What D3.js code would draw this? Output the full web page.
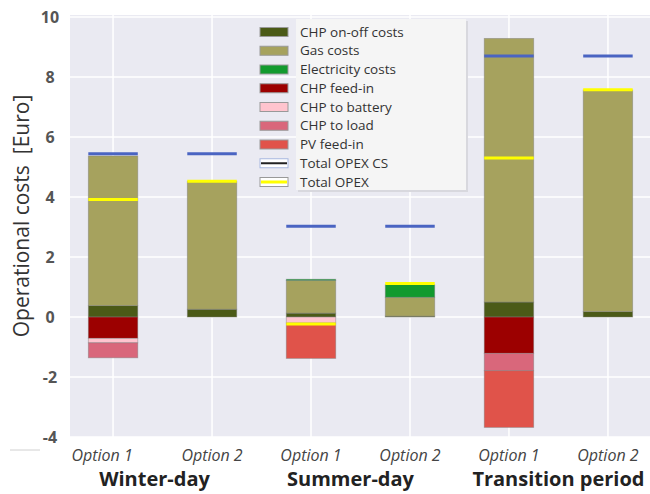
<!DOCTYPE html>
<html>
<head>
<meta charset="utf-8">
<script src="https://cdn.jsdelivr.net/npm/d3@7"></script>
<style>
  body { margin: 0; background: #fff; }
  svg { display: block; font-family: 'Open Sans', sans-serif; }
</style>
</head>
<body>
<svg id="chart"></svg>
<script>
var options = ['Option 1', 'Option 2', 'Option 1', 'Option 2', 'Option 1', 'Option 2'];
var groups = ['Winter-day', 'Summer-day', 'Transition period'];
var yTicks = [-4, -2, 0, 2, 4, 6, 8, 10];

// stacked components, one value per bar
var chpOnOff = [0.38, 0.26, 0.13, 0.03, 0.50, 0.18];
var gasCosts = [4.99, 4.27, 1.09, 0.63, 8.79, 7.39];
var electricityCosts = [0, 0, 0.04, 0.42, 0, 0];
var chpFeedIn = [-0.71, 0, 0, 0, -1.21, 0];
var chpToBattery = [-0.15, 0, -0.20, 0, 0, 0];
var chpToLoad = [-0.50, 0, 0, 0, -0.58, 0];
var pvFeedIn = [0, 0, -1.18, 0, -1.89, 0];

var totalOpexCS = [5.44, 5.44, 3.03, 3.03, 8.70, 8.70];
var totalOpex = [3.92, 4.53, -0.23, 1.12, 5.30, 7.58];

var series = [
  { name: 'CHP on-off costs', values: chpOnOff, color: '#4b5a17' },
  { name: 'Gas costs', values: gasCosts, color: '#a6a25e' },
  { name: 'Electricity costs', values: electricityCosts, color: '#129a2e' },
  { name: 'CHP feed-in', values: chpFeedIn, color: '#9c0000' },
  { name: 'CHP to battery', values: chpToBattery, color: '#ffc4ce' },
  { name: 'CHP to load', values: chpToLoad, color: '#d9677b' },
  { name: 'PV feed-in', values: pvFeedIn, color: '#e0534a' }
];

var width = 650, height = 494;
var plot = { left: 70, right: 651, top: 15, bottom: 437 };

var svg = d3.select('#chart').attr('width', width).attr('height', height);

var x = d3.scaleLinear().domain([-0.435, 5.435]).range([plot.left, plot.right]);
var y = d3.scaleLinear().domain([-4, 10.07]).range([plot.bottom, plot.top]);
var barW = x(0.5) - x(0);

// background + grid
svg.append('rect')
  .attr('x', plot.left).attr('y', plot.top)
  .attr('width', plot.right - plot.left).attr('height', plot.bottom - plot.top)
  .attr('fill', '#eaeaf2');

var grid = svg.append('g');
grid.selectAll('.hg').data(yTicks).enter().append('line')
  .attr('x1', plot.left).attr('x2', plot.right)
  .attr('y1', d => y(d)).attr('y2', d => y(d))
  .attr('stroke', '#fff').attr('stroke-width', 1.5);
grid.selectAll('.vg').data(options).enter().append('line')
  .attr('x1', (d, i) => x(i)).attr('x2', (d, i) => x(i))
  .attr('y1', plot.top).attr('y2', plot.bottom)
  .attr('stroke', '#fff').attr('stroke-width', 1.5);

// stack positives up and negatives down
var posBase = options.map(() => 0);
var negBase = options.map(() => 0);
var segs = [];
series.forEach(function(s) {
  s.values.forEach(function(v, i) {
    if (v === 0) return;
    var y0, y1;
    if (v > 0) { y0 = posBase[i]; y1 = y0 + v; posBase[i] = y1; }
    else { y0 = negBase[i]; y1 = y0 + v; negBase[i] = y1; }
    segs.push({ i: i, y0: y0, y1: y1, color: s.color });
  });
});

svg.append('g').selectAll('rect').data(segs).enter().append('rect')
  .attr('x', d => x(d.i) - barW / 2)
  .attr('width', barW)
  .attr('y', d => y(Math.max(d.y0, d.y1)))
  .attr('height', d => Math.abs(y(d.y0) - y(d.y1)))
  .attr('fill', d => d.color)
  .attr('stroke', '#808080').attr('stroke-opacity', 0.55).attr('stroke-width', 0.8);

// total lines
svg.append('g').selectAll('line').data(totalOpexCS).enter().append('line')
  .attr('x1', (d, i) => x(i) - barW / 2).attr('x2', (d, i) => x(i) + barW / 2)
  .attr('y1', d => y(d)).attr('y2', d => y(d))
  .attr('stroke', '#4a64c2').attr('stroke-width', 3);
svg.append('g').selectAll('line').data(totalOpex).enter().append('line')
  .attr('x1', (d, i) => x(i) - barW / 2).attr('x2', (d, i) => x(i) + barW / 2)
  .attr('y1', d => y(d)).attr('y2', d => y(d))
  .attr('stroke', '#ffff00').attr('stroke-width', 3);

// y tick labels
svg.append('g').selectAll('text').data(yTicks).enter().append('text')
  .attr('x', 50).attr('y', d => y(d) + 5.5)
  .attr('text-anchor', 'middle')
  .attr('font-size', 16).attr('font-weight', 'bold').attr('fill', '#555')
  .text(d => d);

svg.append('text')
  .attr('transform', 'translate(29,' + 216 + ') rotate(-90)')
  .attr('text-anchor', 'middle')
  .attr('font-size', 21).attr('fill', '#333')
  .attr('xml:space', 'preserve')
  .text('Operational costs  [Euro]');

// x labels
svg.append('g').selectAll('text').data(options).enter().append('text')
  .attr('x', (d, i) => x(i) + (i === 0 ? -11 : 0))
  .attr('y', 461)
  .attr('text-anchor', 'middle')
  .attr('font-size', 16).attr('font-style', 'italic').attr('fill', '#444')
  .text(d => d);

var groupShift = [-8, -10, 0];
svg.append('g').selectAll('text').data(groups).enter().append('text')
  .attr('x', (d, i) => x(i * 2 + 0.5) + groupShift[i])
  .attr('y', 486)
  .attr('text-anchor', 'middle')
  .attr('font-size', 20).attr('font-weight', 'bold').attr('fill', '#222')
  .text(d => d);

svg.append('line')
  .attr('x1', 10).attr('x2', 40).attr('y1', 450).attr('y2', 450)
  .attr('stroke', '#d0d0d0').attr('stroke-width', 1);

// legend
var legend = svg.append('g');
var legendItems = series.map(s => ({ name: s.name, color: s.color, type: 'bar' }))
  .concat([{ name: 'Total OPEX CS', type: 'cs' }, { name: 'Total OPEX', type: 'opex' }]);
var rowY = d3.scaleLinear().domain([0, 8]).range([32, 182]);

legend.append('rect')
  .attr('x', 298).attr('y', 21).attr('width', 170).attr('height', 171)
  .attr('fill', '#d8d8de');
legend.append('rect')
  .attr('x', 296).attr('y', 19).attr('width', 170).attr('height', 171)
  .attr('fill', '#f5f5f5');

var rows = legend.selectAll('.row').data(legendItems).enter().append('g')
  .attr('transform', (d, i) => 'translate(0,' + rowY(i) + ')');

rows.append('rect')
  .attr('x', 260).attr('y', -4.5).attr('width', 28).attr('height', 9)
  .attr('fill', d => d.type === 'bar' ? d.color : '#fff')
  .attr('stroke', d => d.type === 'cs' ? '#a8b8e0' : '#999')
  .attr('stroke-width', 1);
rows.filter(d => d.type !== 'bar').append('line')
  .attr('x1', 261).attr('x2', 287).attr('y1', 0).attr('y2', 0)
  .attr('stroke', d => d.type === 'cs' ? '#222' : '#ffff00')
  .attr('stroke-width', d => d.type === 'cs' ? 2 : 3);

rows.append('text')
  .attr('x', 300).attr('y', 4.5)
  .attr('font-size', 13.5).attr('fill', '#333')
  .text(d => d.name);
</script>
</body>
</html>
